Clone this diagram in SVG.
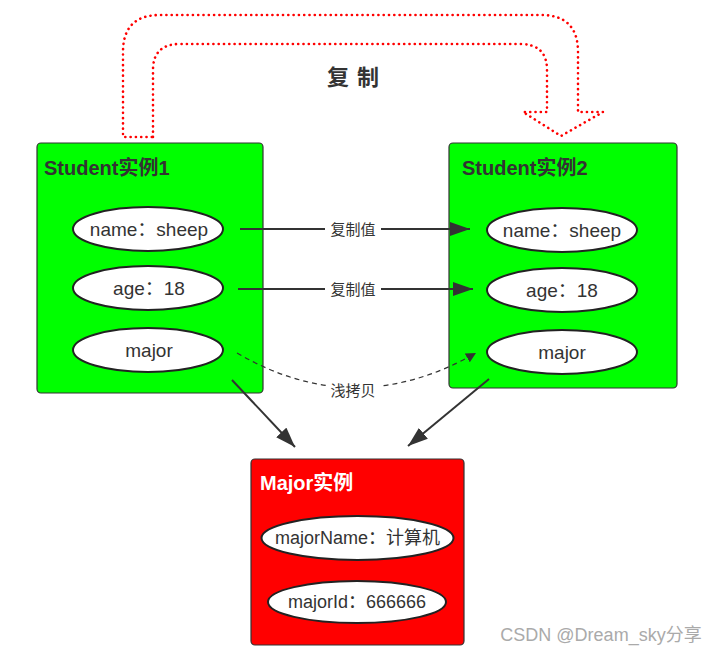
<svg xmlns="http://www.w3.org/2000/svg" width="720" height="655" viewBox="0 0 720 655">
<defs>
<style>
.box{stroke:#333;stroke-width:1.2}
.ell{fill:#fff;stroke:#222;stroke-width:2}
.t{font-family:"Liberation Sans","Noto Sans CJK SC",sans-serif;font-size:19px;fill:#333;text-anchor:middle;dominant-baseline:central}
.tm{font-family:"Liberation Sans","Noto Sans CJK SC",sans-serif;font-size:18px;fill:#333;text-anchor:middle;dominant-baseline:central}
.title{font-family:"Liberation Sans","Noto Sans CJK SC",sans-serif;font-size:20px;font-weight:bold;fill:#333}
.lbl{font-family:"Liberation Sans","Noto Sans CJK SC",sans-serif;font-size:15px;fill:#333;text-anchor:middle;dominant-baseline:central}
.conn{stroke:#333;stroke-width:2;fill:none}
</style>
<marker id="ah" viewBox="0 0 10 10" refX="10" refY="5" markerWidth="10" markerHeight="10" markerUnits="userSpaceOnUse" orient="auto"><path d="M0,0 L10,5 L0,10 Z" fill="#333"/></marker>
<marker id="ahL" viewBox="0 0 10 10" refX="10" refY="5" markerWidth="20" markerHeight="14" markerUnits="userSpaceOnUse" orient="auto" preserveAspectRatio="none"><path d="M0,0 L10,5 L0,10 Z" fill="#333"/></marker>
</defs>
<rect width="720" height="655" fill="#fff"/>

<g id="copy-arrow">
<path d="M153,137 L153,70 Q153,44 180,44 L520,44 Q547,44 547,70 L547,112 L523,112 L561,136 L603,112 L578,112 L578,52 Q578,15 541,15 L160,15 Q123,15 123,52 L123,137 Z" fill="none" stroke="#f00" stroke-width="2.6" stroke-dasharray="0.1 5.2" stroke-linecap="round" stroke-linejoin="round"/>
<text x="357" y="85" font-family="'Liberation Sans','Noto Sans CJK SC',sans-serif" font-size="22" font-weight="bold" fill="#333" text-anchor="middle" letter-spacing="8">复制</text>
</g>

<g id="student1">
<rect class="box" x="37" y="143" width="226" height="250" rx="4" fill="#00ff00"/>
<text class="title" x="44" y="175">Student实例1</text>
<ellipse class="ell" cx="148" cy="229" rx="75" ry="22"/>
<text class="t" x="149" y="229">name：sheep</text>
<ellipse class="ell" cx="148" cy="288" rx="75" ry="22"/>
<text class="t" x="149" y="288">age：18</text>
<ellipse class="ell" cx="148" cy="350" rx="75" ry="22"/>
<text class="t" x="149" y="350">major</text>
</g>

<g id="student2">
<rect class="box" x="449" y="143" width="228" height="245" rx="4" fill="#00ff00"/>
<text class="title" x="462" y="175">Student实例2</text>
<ellipse class="ell" cx="562" cy="230" rx="75" ry="22"/>
<text class="t" x="562" y="230">name：sheep</text>
<ellipse class="ell" cx="562" cy="290" rx="75" ry="22"/>
<text class="t" x="562" y="290">age：18</text>
<ellipse class="ell" cx="562" cy="352" rx="75" ry="22"/>
<text class="t" x="562" y="352">major</text>
</g>

<g id="major">
<rect class="box" x="251" y="459" width="213" height="186" rx="4" fill="#ff0000"/>
<text class="title" x="260" y="490" style="fill:#fff">Major实例</text>
<ellipse class="ell" cx="357.5" cy="538" rx="96" ry="22"/>
<text class="tm" x="357.5" y="538">majorName：计算机</text>
<ellipse class="ell" cx="357" cy="602" rx="89" ry="21"/>
<text class="tm" x="357" y="602">majorId：666666</text>
</g>

<g id="connectors">
<line class="conn" x1="240" y1="229" x2="470" y2="229" marker-end="url(#ahL)"/>
<rect x="325" y="219" width="56" height="20" fill="#fff"/>
<text class="lbl" x="353" y="229">复制值</text>
<line class="conn" x1="238" y1="289" x2="473" y2="289" marker-end="url(#ahL)"/>
<rect x="325" y="279" width="56" height="20" fill="#fff"/>
<text class="lbl" x="353" y="289">复制值</text>
<path d="M237,353 Q355,422 476,353" fill="none" stroke="#333" stroke-width="1.2" stroke-dasharray="5 4" marker-end="url(#ah)"/>
<rect x="326" y="380" width="54" height="20" fill="#fff"/>
<text class="lbl" x="353" y="390">浅拷贝</text>
<line class="conn" x1="232" y1="380" x2="295" y2="447" marker-end="url(#ahL)"/>
<line class="conn" x1="489" y1="379" x2="408" y2="446" marker-end="url(#ahL)"/>
</g>

<text x="601" y="641" font-family="'Liberation Sans','Noto Sans CJK SC',sans-serif" font-size="18" fill="#aaa" text-anchor="middle">CSDN @Dream_sky分享</text>
</svg>
